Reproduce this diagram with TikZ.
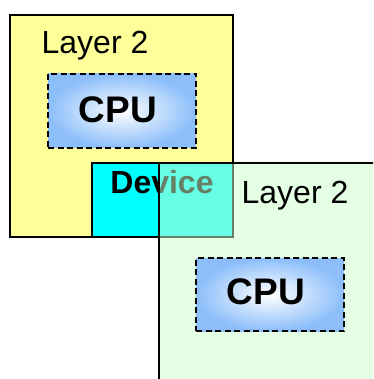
\documentclass[tikz,border=0pt]{standalone}
\usepackage{fontspec}
\setmainfont{Liberation Sans}
\begin{document}
\begin{tikzpicture}[x=1pt,y=-1pt]
\definecolor{layery}{RGB}{255,255,153}
\definecolor{devcyan}{RGB}{0,255,255}
\definecolor{layerg}{RGB}{205,255,205}
\definecolor{cpublue}{RGB}{140,190,250}
\tikzset{
  layerbox/.style={draw=black, line width=1.6pt, anchor=north west, inner sep=0pt},
  cpubox/.style={draw=black, dash pattern=on 6pt off 3.5pt, line width=2pt,
    inner color=white, outer color=cpublue, anchor=north west, inner sep=0pt},
  cputext/.style={inner sep=0pt, font=\bfseries\fontsize{37}{42}\selectfont},
  layertext/.style={anchor=base, inner sep=0pt, font=\fontsize{32}{36}\selectfont},
  devtext/.style={anchor=base, inner sep=0pt, font=\bfseries\fontsize{32}{36}\selectfont}
}
\clip (0,0) rectangle (373,379);
\fill[white] (0,0) rectangle (373,379);
% top layer
\node[layerbox, fill=layery, minimum width=223pt, minimum height=222pt] (layerA) at (9,14) {};
\node[layertext] (layerAtext) at (95,54) {Layer 2};
\node[cpubox, minimum width=148pt, minimum height=74pt] (cpuA) at (47,73) {};
\node[cputext] (cpuAtext) at (118,110) {CPU};
% device
\node[layerbox, fill=devcyan, minimum width=141pt, minimum height=74pt] (dev) at (91,162) {};
\node[devtext] (devtext) at (162,193) {Device};
% bottom layer (semi transparent)
\node[layerbox, fill=layerg, fill opacity=0.5, minimum width=240pt, minimum height=240pt] (layerB) at (158,162) {};
\node[layertext] (layerBtext) at (295,203) {Layer 2};
\node[cpubox, minimum width=148pt, minimum height=73pt] (cpuB) at (195,257) {};
\node[cputext] (cpuBtext) at (266,292) {CPU};
\end{tikzpicture}
\end{document}
